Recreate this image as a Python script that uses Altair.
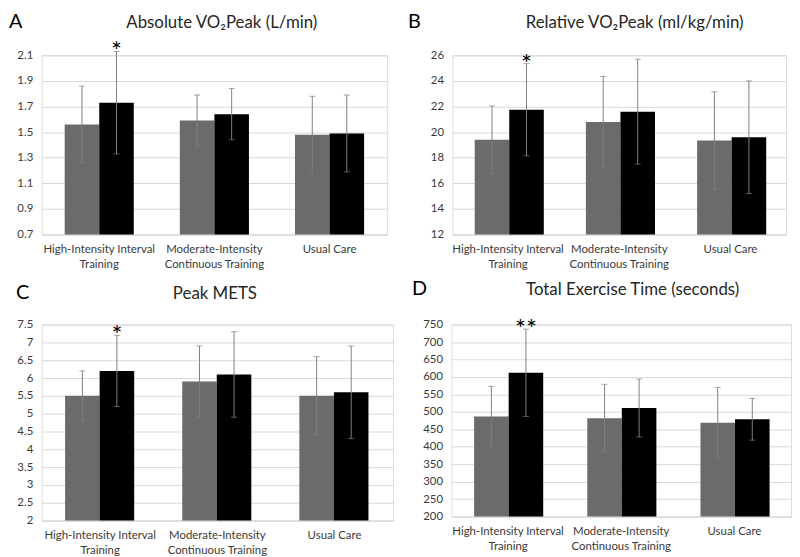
import altair as alt
import pandas as pd

categories = ["High-Intensity Interval|Training", "Moderate-Intensity|Continuous Training", "Usual Care"]
groups = ["Pre", "Post"]

A_pre = [1.56, 1.59, 1.48]
A_pre_sd = [0.30, 0.20, 0.30]
A_post = [1.73, 1.64, 1.49]
A_post_sd = [0.40, 0.20, 0.30]

B_pre = [19.4, 20.8, 19.35]
B_pre_sd = [2.65, 3.55, 3.8]
B_post = [21.75, 21.6, 19.6]
B_post_sd = [3.6, 4.1, 4.4]

C_pre = [5.5, 5.9, 5.5]
C_pre_sd = [0.7, 1.0, 1.1]
C_post = [6.2, 6.1, 5.6]
C_post_sd = [1.0, 1.2, 1.3]

D_pre = [487, 482, 469]
D_pre_sd = [86, 97, 101]
D_post = [612, 511, 479]
D_post_sd = [125, 83, 60]

letters = ["A", "B", "C", "D"]
titles = ["Absolute VO₂Peak (L/min)", "Relative VO₂Peak (ml/kg/min)", "Peak METS", "Total Exercise Time (seconds)"]
stars = ["*", "*", "*", "**"]
A_ticks = [0.7, 0.9, 1.1, 1.3, 1.5, 1.7, 1.9, 2.1]
B_ticks = [12, 14, 16, 18, 20, 22, 24, 26]
C_ticks = [2, 2.5, 3, 3.5, 4, 4.5, 5, 5.5, 6, 6.5, 7, 7.5]
D_ticks = [200, 250, 300, 350, 400, 450, 500, 550, 600, 650, 700, 750]

FONT = "Lato"
GRAY = "#6b6b6b"
LABEL = "#3a3a3a"


def panel(letter, title, pre, pre_sd, post, post_sd, ticks, star, w, h, lx, ly, tx):
    rows = []
    for i, c in enumerate(categories):
        rows.append({"cat": c, "grp": "Pre", "v": pre[i], "lo": pre[i] - pre_sd[i], "hi": pre[i] + pre_sd[i]})
        rows.append({"cat": c, "grp": "Post", "v": post[i], "lo": post[i] - post_sd[i], "hi": post[i] + post_sd[i]})
    df = pd.DataFrame(rows)
    sdf = df[(df.cat == categories[0]) & (df.grp == "Post")].assign(star=star)

    yscale = alt.Scale(domain=[ticks[0], ticks[-1]], nice=False, zero=False)
    yaxis = alt.Axis(values=ticks, labelExpr="'' + datum.value", grid=True, gridColor="#d9d9d9",
                     domain=False, ticks=False, labelFontSize=11.5, labelColor=LABEL,
                     labelFont=FONT, labelPadding=9, labelOverlap=False)
    xscale = alt.Scale(paddingInner=0.4, paddingOuter=0.2)
    xaxis = alt.Axis(labelAngle=0, labelExpr="split(datum.label, '|')",
                     ticks=False, domain=True, domainColor="#d9d9d9",
                     labelFontSize=11.5, labelColor=LABEL, labelFont=FONT,
                     labelLineHeight=15, labelPadding=9, labelOverlap=False)

    def X():
        return alt.X("cat:N", sort=categories, title=None, scale=xscale, axis=xaxis)

    def Y(f):
        return alt.Y(f, scale=yscale, title=None, axis=yaxis)

    xo = alt.XOffset("grp:N", sort=groups, scale=alt.Scale(paddingInner=0, paddingOuter=0))

    base = alt.Chart(df)
    bars = base.mark_bar(clip=True).encode(
        x=X(), xOffset=xo, y=Y("v:Q"),
        color=alt.Color("grp:N", sort=groups,
                        scale=alt.Scale(domain=groups, range=[GRAY, "#000000"]), legend=None),
    )
    err = base.mark_rule(color="#7f7f7f", strokeWidth=1).encode(
        x=X(), xOffset=xo, y=Y("lo:Q"), y2="hi:Q")
    cap_lo = base.mark_tick(color="#7f7f7f", thickness=1, size=6, orient="horizontal").encode(
        x=X(), xOffset=xo, y=Y("lo:Q"))
    cap_hi = base.mark_tick(color="#7f7f7f", thickness=1, size=6, orient="horizontal").encode(
        x=X(), xOffset=xo, y=Y("hi:Q"))
    st = alt.Chart(sdf).mark_text(fontSize=26, font=FONT, color="#000000", baseline="alphabetic",
                                  dy=9, clip=False).encode(
        x=X(), xOffset=xo, y=Y("hi:Q"), text="star:N")
    lab = alt.Chart(pd.DataFrame({"t": [letter]})).mark_text(
        fontSize=20, font=FONT, color="#000000", align="left", baseline="alphabetic").encode(
        x=alt.value(lx), y=alt.value(ly), text="t:N")
    ttl = alt.Chart(pd.DataFrame({"t": [title]})).mark_text(
        fontSize=17, font=FONT, color="#262626", align="center", baseline="alphabetic").encode(
        x=alt.value(tx), y=alt.value(ly), text="t:N")

    return alt.layer(bars, err, cap_lo, cap_hi, st, lab, ttl).properties(width=w, height=h)


pA = panel(letters[0], titles[0], A_pre, A_pre_sd, A_post, A_post_sd, A_ticks, stars[0], 349, 181, -33, -28, 182)
pB = panel(letters[1], titles[1], B_pre, B_pre_sd, B_post, B_post_sd, B_ticks, stars[1], 337, 181, -45, -28, 184)
pC = panel(letters[2], titles[2], C_pre, C_pre_sd, C_post, C_post_sd, C_ticks, stars[2], 355, 198, -26, -26, 175)
pD = panel(letters[3], titles[3], D_pre, D_pre_sd, D_post, D_post_sd, D_ticks, stars[3], 343, 194, -40, -30, 183)

chart = alt.vconcat(
    alt.hconcat(pA, pB, spacing=19),
    alt.hconcat(pC, pD, spacing=17),
    spacing=8,
).properties(padding=0).configure_view(stroke=None).configure(font=FONT)

chart.save("out.html", embed_options={"renderer": "svg", "actions": False})
